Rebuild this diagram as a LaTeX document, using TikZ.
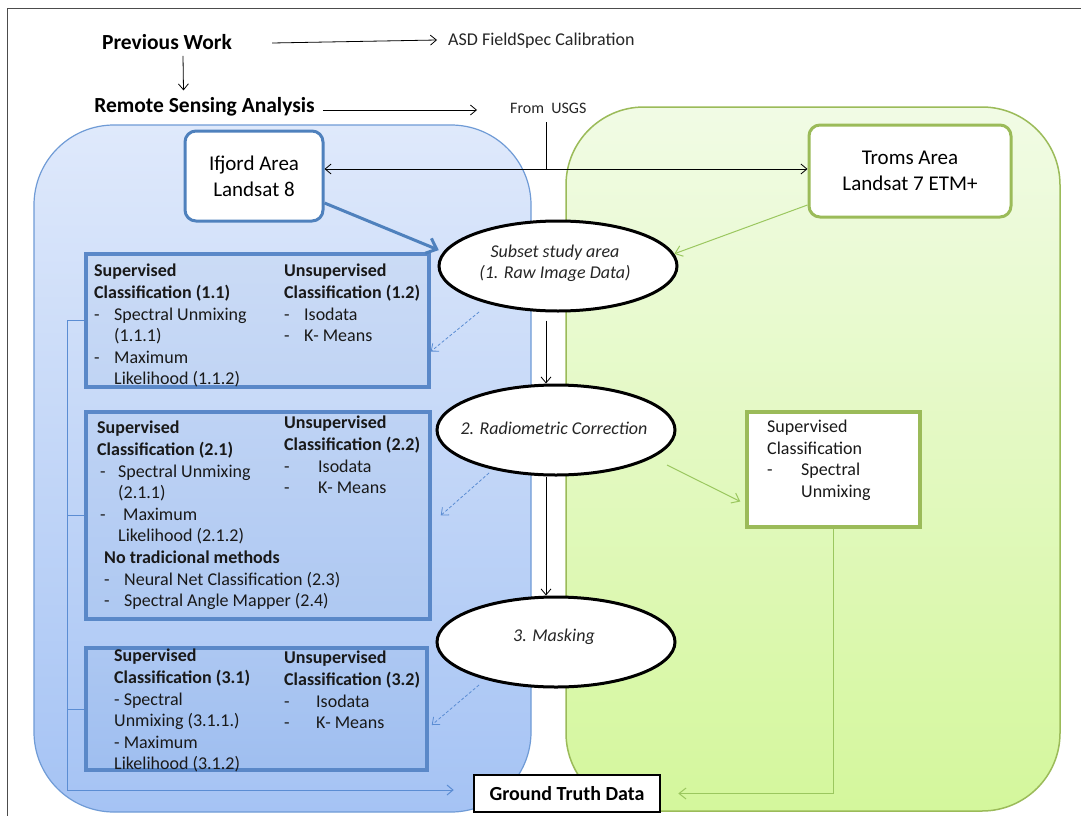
\documentclass[tikz,border=0pt]{standalone}
\usepackage{fontspec}
\setmainfont{Carlito}
\usetikzlibrary{arrows.meta,shapes.geometric,shadows,calc}
\definecolor{accB}{HTML}{4F81BD}
\definecolor{boxB}{HTML}{5A88C8}
\definecolor{regBtop}{HTML}{DFE9FB}
\definecolor{regBbot}{HTML}{A5C3F4}
\definecolor{regBd}{HTML}{6F9BD6}
\definecolor{accG}{HTML}{9BBB59}
\definecolor{regGtop}{HTML}{F1FBE5}
\definecolor{regGbot}{HTML}{D4F79C}
\definecolor{lineB}{HTML}{5B8DD3}
\definecolor{lineG}{HTML}{9BC75F}
\newcommand\dl[1]{\makebox[#1][l]{-}}
\begin{document}
\begin{tikzpicture}[x=1pt,y=-1pt,
  col/.style={anchor=north west, inner sep=0pt, align=left, font=\fontsize{18}{21.6}\selectfont, text=black!90},
  ttl/.style={inner sep=0pt, font=\fontsize{21.5}{25}\selectfont\bfseries},
  note/.style={inner sep=0pt, anchor=west, font=\fontsize{18}{21}\selectfont, text=black!85},
  bbox/.style={draw=boxB, line width=3.5pt,
     drop shadow={shadow xshift=2pt, shadow yshift=-2pt, opacity=0.25}},
  area/.style={rounded corners=11pt, fill=white, line width=3pt, align=center,
     font=\fontsize{21}{26}\selectfont, inner sep=0pt},
  ell/.style={ellipse, draw=black, line width=3pt, fill=white, minimum width=238pt,
     minimum height=90pt, inner sep=0pt},
  etx/.style={inner sep=0pt, align=center, font=\fontsize{18}{21}\selectfont\itshape, text=black!85},
  arr/.style={-{Straight Barb[length=6pt,width=10pt]}, line width=0.8pt},
  thickarr/.style={-{Straight Barb[length=9pt,width=16pt]}, line width=3pt, draw=accB},
  darr/.style={-{Straight Barb[length=6pt,width=10pt]}, line width=0.8pt, draw=lineB, dash pattern=on 3pt off 2pt},
  garr/.style={-{Straight Barb[length=7pt,width=11pt]}, line width=1pt, draw=lineG},
  bline/.style={line width=1pt, draw=lineB}
]
\useasboundingbox (0,0) rectangle (1081,816);
\fill[white] (0,0) rectangle (1081,816);
\draw[black!70, line width=1pt] (7,816) -- (7,9) -- (1081,9);

% regions
\path[draw=regBd, line width=1.2pt, top color=regBtop, bottom color=regBbot, rounded corners=80pt]
  (34,125) rectangle (531,812);
\path[draw=accG, line width=1.5pt, top color=regGtop, bottom color=regGbot, rounded corners=78pt]
  (566,107) rectangle (1060,811);

% header texts
\node[ttl] (pw) at (167,42) {Previous Work};
\node[note] (asd) at (448,41) {ASD FieldSpec Calibration};
\node[ttl] (rsa) at (204.5,107) {Remote Sensing Analysis};
\node[note, font=\fontsize{16}{19}\selectfont] (usgs) at (510,108) {From\ \ USGS};

% area boxes
\node[area, draw=accB, minimum width=138pt, minimum height=90pt] (ifj) at (254,176) {Ifjord Area\\Landsat 8};
\node[area, draw=accG, minimum width=202pt, minimum height=92pt] (trm) at (910,171) {Troms Area\\Landsat 7 ETM+};

% ellipses
\node[ell] (e1) at (558,266) {};
\node[etx] (e1t) at (555,263) {Subset study area\\(1. Raw Image Data)};
\node[ell] (e2) at (556,430) {};
\node[etx] (e2t) at (554,428) {2. Radiometric Correction};
\node[ell] (e3) at (556,642) {};
\node[etx] (e3t) at (554,637) {3. Masking};

% classification boxes
\node[bbox, minimum width=343pt, minimum height=133pt,
   top color=regBbot!19!regBtop!93!accB, bottom color=regBbot!38!regBtop!93!accB] (b1) at (257.5,320.5) {};
\node[bbox, minimum width=344pt, minimum height=207pt,
   top color=regBbot!42!regBtop!93!accB, bottom color=regBbot!72!regBtop!93!accB] (b2) at (258,515.5) {};
\node[bbox, minimum width=341pt, minimum height=122pt,
   top color=regBbot!75!regBtop!93!accB, bottom color=regBbot!93!accB] (b3) at (256.5,709) {};

\node[col] (b1l) at (94,264) {\textbf{Supervised}\\\textbf{Classification (1.1)}\\\dl{20pt}Spectral Unmixing\\\hspace*{20pt}(1.1.1)\\\dl{20pt}Maximum\\\hspace*{20pt}Likelihood (1.1.2)};
\node[col] (b1r) at (284,264) {\textbf{Unsupervised}\\\textbf{Classification (1.2)}\\\dl{20pt}Isodata\\\dl{20pt}K- Means};

\node[col] (b2l) at (97,421) {\textbf{Supervised}\\\textbf{Classification (2.1)}\\\hspace*{3pt}\dl{18pt}Spectral Unmixing\\\hspace*{21pt}(2.1.1)\\\hspace*{3pt}\dl{23pt}Maximum\\\hspace*{21pt}Likelihood (2.1.2)\\\hspace*{7pt}\textbf{No tradicional methods}\\\hspace*{7pt}\dl{20pt}Neural Net Classification (2.3)\\\hspace*{7pt}\dl{20pt}Spectral Angle Mapper (2.4)};
\node[col] (b2r) at (284,416) {\textbf{Unsupervised}\\\textbf{Classification (2.2)}\\\dl{34pt}Isodata\\\dl{34pt}K- Means};

\node[col] (b3l) at (114,649) {\textbf{Supervised}\\\textbf{Classification (3.1)}\\- Spectral\\Unmixing (3.1.1.)\\- Maximum\\Likelihood (3.1.2)};
\node[col] (b3r) at (284,651) {\textbf{Unsupervised}\\\textbf{Classification (3.2)}\\\dl{32pt}Isodata\\\dl{32pt}K- Means};

% green classification box
\node[draw=accG, line width=3.5pt, fill=white, minimum width=173pt, minimum height=115pt, inner sep=0pt,
   drop shadow={shadow xshift=2pt, shadow yshift=-2pt, opacity=0.25}] (gbox) at (833.5,469.5) {};
\node[col] (gboxt) at (767,420) {Supervised\\Classification\\\dl{34pt}Spectral\\\hspace*{34pt}Unmixing};

% ground truth
\node[draw=black, line width=2.5pt, fill=white, minimum width=186pt, minimum height=37pt, inner sep=0pt,
   font=\fontsize{20}{24}\selectfont\bfseries] (gt) at (567,793.5) {Ground Truth Data};

% coordinates
\coordinate (jn) at (546,169);
\coordinate (bl) at (67,790);
\coordinate (d1s) at (479,312);
\coordinate (d2s) at (489,473);
\coordinate (d3s) at (479,685);
\coordinate (g2s) at (667,465);

% connectors
\draw[arr] ([xshift=40pt,yshift=-1pt]pw.east) -- ([xshift=-11pt,yshift=1pt]asd.west);
\draw[arr] ([xshift=16pt,yshift=-6pt]pw.south) -- ([xshift=-21pt,yshift=7pt]rsa.north);
\draw[arr] ([xshift=8pt,yshift=-3pt]rsa.east) -- ([xshift=-33pt,yshift=-2pt]usgs.west);
\draw[line width=0.8pt] ($(jn |- usgs.south)+(0,9)$) -- (jn);
\draw[arr] (jn) -- (jn -| ifj.east);
\draw[arr] (jn) -- (jn -| trm.west);
\draw[thickarr] ([yshift=-27pt]ifj.east) -- ([xshift=-6pt]e1.172);
\draw[garr] ([yshift=-34pt]trm.west) -- (e1.6);
\draw[arr] ([yshift=-8pt]e1.south -| jn) -- (e2.north -| jn);
\draw[arr] (e2.south -| jn) -- (e3.north -| jn);
\draw[darr] (d1s) -- ([yshift=-31pt]b1.east);
\draw[darr] (d2s) -- ([xshift=9pt]b2.east);
\draw[darr] (d3s) -- ([xshift=3pt,yshift=-16pt]b3.east);
\draw[garr] (g2s) -- ([xshift=-5pt,yshift=-32pt]gbox.west);
\draw[garr] (gbox.south) |- ([xshift=17pt]gt.east);
\draw[bline] (b1.west) -| (bl);
\draw[bline] (b2.west) -- (b2.west -| bl);
\draw[bline] (b3.west) -- (b3.west -| bl);
\draw[bline, -{Straight Barb[length=6pt,width=10pt]}] (bl) -- ($(bl -| gt.west)+(-19,0)$);
\end{tikzpicture}
\end{document}
